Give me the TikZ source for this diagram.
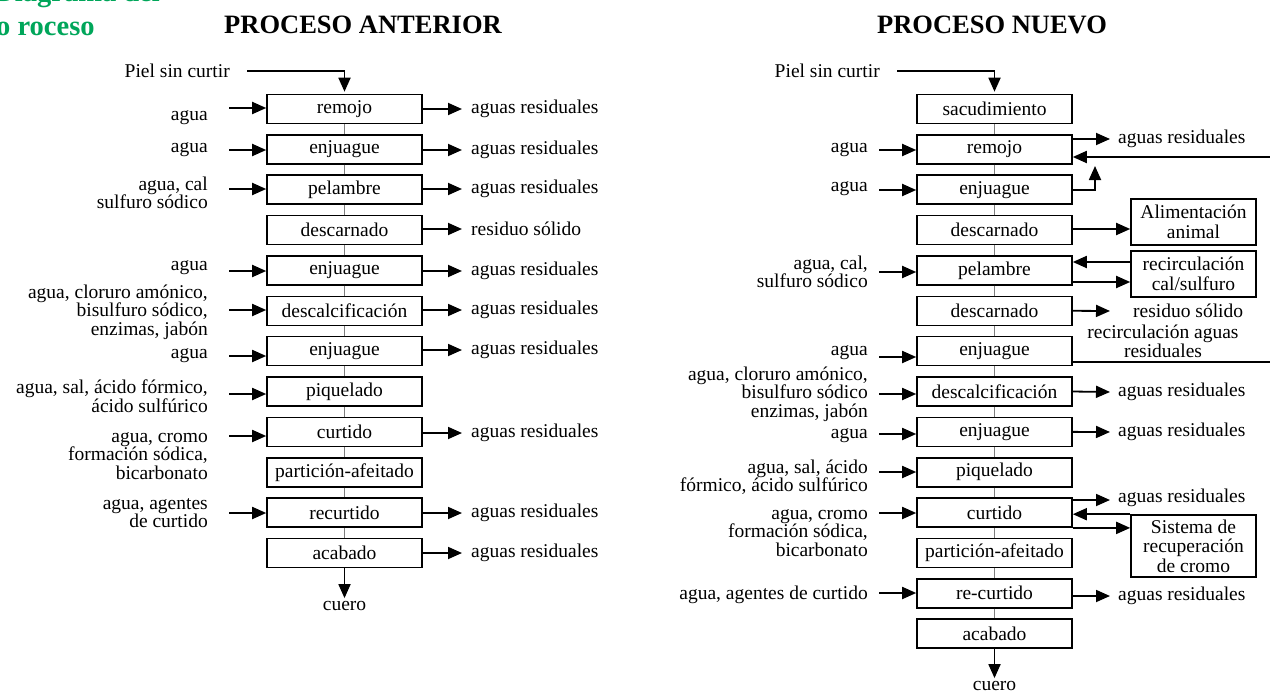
\documentclass[tikz,border=0pt]{standalone}
\usepackage{fontspec}
\setmainfont{Liberation Serif}
\usetikzlibrary{arrows.meta,calc}
\definecolor{titlegreen}{RGB}{0,166,90}
\definecolor{linkgray}{RGB}{125,125,125}
\tikzset{
 every node/.style={font=\fontsize{19.5}{18.5}\selectfont, inner sep=0pt},
 stepbox/.style={draw, line width=1.6pt, minimum width=155pt, minimum height=29pt, inner sep=0pt},
 sidebox/.style={draw, line width=1.6pt, minimum width=125pt, align=center, font=\fontsize{19.5}{19.5}\selectfont},
 arr/.style={line width=1.8pt, -{Triangle[length=14pt,width=12pt]}},
 plain/.style={line width=1.8pt},
 link/.style={linkgray, line width=1.1pt},
 inlabel/.style={anchor=east, align=right},
 outlabel/.style={anchor=west},
 title/.style={font=\fontsize{26.5}{30}\selectfont\bfseries},
 green/.style={font=\fontsize{28.5}{30}\selectfont\bfseries, text=titlegreen},
}
\begin{document}
\begin{tikzpicture}[x=1pt,y=-1pt]
\useasboundingbox (0,0) rectangle (1270,693);
\clip (0,0) rectangle (1270,693);
% green heading (cropped as in the reference)
\node[green, anchor=base east] (g1) at (160,2) {Diagrama del};
\node[green, anchor=base west] (g2) at (-4,36) {o roceso};
% titles
\node[title] (tA) at (363,25) {PROCESO ANTERIOR};
\node[title] (tN) at (992,25) {PROCESO NUEVO};

% ---------------- left column ----------------
\foreach \i/\t in {1/remojo,2/enjuague,3/pelambre,4/descarnado,5/enjuague,6/descalcificación,7/enjuague,8/piquelado,9/curtido,10/partición-afeitado,11/recurtido,12/acabado}
  \node[stepbox] (L\i) at (344.5,{109+40.36*(\i-1)}) {\t};
\foreach \i [evaluate=\i as \j using int(\i+1)] in {1,...,11}
  \draw[link] (L\i) -- (L\j);

\node[anchor=east] (pA) at (230,71) {Piel sin curtir};
\draw[arr] ([xshift=17pt]pA.east) -| ([yshift=2pt]L1.north);

% inputs left
\node[inlabel] (a1) at (208,118) {agua};
\draw[arr] (229,108) -- (L1.west |- 0,108);
\node[inlabel] (a2) at (208,150) {agua};
\draw[arr] (229,150) -- (L2.west |- 0,150);
\node[inlabel] (a3) at (208,193) {agua, cal\\sulfuro sódico};
\draw[arr] (229,189) -- (L3.west |- 0,189);
\node[inlabel] (a5) at (208,268) {agua};
\draw[arr] (229,271) -- (L5.west |- 0,271);
\node[inlabel] (a6) at (208,312) {agua, cloruro amónico,\\bisulfuro sódico,\\enzimas, jabón};
\draw[arr] (229,310) -- (L6.west |- 0,310);
\node[inlabel] (a7) at (208,356) {agua};
\draw[arr] (229,356) -- (L7.west |- 0,356);
\node[inlabel] (a8) at (208,396) {agua, sal, ácido fórmico,\\ácido sulfúrico};
\draw[arr] (229,394) -- (L8.west |- 0,394);
\node[inlabel] (a9) at (208,456) {agua, cromo\\formación sódica,\\bicarbonato};
\draw[arr] (229,436) -- (L9.west |- 0,436);
\node[inlabel] (a11) at (208,513) {agua, agentes\\de curtido};
\draw[arr] (229,513) -- (L11.west |- 0,513);

% outputs left
\foreach \i/\y/\t in {1/109/aguas residuales,2/150/aguas residuales,3/189/aguas residuales,4/229/residuo sólido,5/271/aguas residuales,6/310/aguas residuales,7/350/aguas residuales,9/433/aguas residuales,11/513/aguas residuales,12/553/aguas residuales}{
  \draw[arr] (L\i.east |- 0,\y) -- (462,\y);
  \node[outlabel] (o\i) at (471,\y) {\t};
}
\node (cA) at (344.5,606) {cuero};
\draw[arr] (L12.south) -- ([yshift=3pt]cA.north);

% ---------------- right column ----------------
\foreach \i/\t in {1/sacudimiento,2/remojo,3/enjuague,4/descarnado,5/pelambre,6/descarnado,7/enjuague,8/descalcificación,9/enjuague,10/piquelado,11/curtido,12/partición-afeitado,13/re-curtido,14/acabado}
  \node[stepbox] (R\i) at (994.5,{109+40.36*(\i-1)}) {\t};
\foreach \i [evaluate=\i as \j using int(\i+1)] in {1,...,13}
  \draw[link] (R\i) -- (R\j);

\node[anchor=east] (pN) at (880,71) {Piel sin curtir};
\draw[arr] ([xshift=17pt]pN.east) -| ([yshift=2pt]R1.north);

% inputs right
\node[inlabel] (b2) at (868,150) {agua};
\draw[arr] (879,150) -- (R2.west |- 0,150);
\node[inlabel] (b3) at (868,189) {agua};
\draw[arr] (879,190) -- (R3.west |- 0,190);
\node[inlabel] (b5) at (868,272) {agua, cal,\\sulfuro sódico};
\draw[arr] (879,272) -- (R5.west |- 0,272);
\node[inlabel] (b7) at (868,353) {agua};
\draw[arr] (879,357) -- (R7.west |- 0,357);
\node[inlabel] (b8) at (868,394) {agua, cloruro amónico,\\bisulfuro sódico\\enzimas, jabón};
\draw[arr] (879,394) -- (R8.west |- 0,394);
\node[inlabel] (b9) at (868,436) {agua};
\draw[arr] (879,434) -- (R9.west |- 0,434);
\node[inlabel] (b10) at (868,477) {agua, sal, ácido\\fórmico, ácido sulfúrico};
\draw[arr] (879,472) -- (R10.west |- 0,472);
\node[inlabel] (b11) at (868,533) {agua, cromo\\formación sódica,\\bicarbonato};
\draw[arr] (879,513) -- (R11.west |- 0,513);
\node[inlabel] (b13) at (868,595) {agua, agentes de curtido};
\draw[arr] (879,593) -- (R13.west |- 0,593);

% side boxes
\node[sidebox, minimum height=46pt] (F) at (1193.5,222) {Alimentación\\animal};
\node[sidebox, minimum height=46pt] (C) at (1193.5,274) {recirculación\\cal/sulfuro};
\node[sidebox, minimum height=62pt] (S) at (1193.5,546) {Sistema de\\recuperación\\de cromo};
\coordinate (eA) at (1270,157);
\coordinate (eB) at (1270,362);
\coordinate (up) at (1095,166);

% outputs right
\draw[arr] (R2.east |- 0,139) -- (1110,139);
\node[outlabel] (q2) at (1118,139) {aguas residuales};
\draw[arr] (eA) -- (R2.east |- eA);
\draw[arr] (R3.east) -| (up);
\draw[arr] (R4.east |- 0,229) -- (F.west |- 0,229);
\draw[arr] (C.west |- 0,262) -- (R5.east |- 0,262);
\draw[arr] (R5.east |- 0,282) -- (C.west |- 0,282);
\draw[arr] (R6.east) -- (1110,311);
\node[outlabel] (q6) at (1133,311) {residuo sólido};
\node[align=center, font=\fontsize{19.5}{17}\selectfont] (rw) at (1163,341) {recirculación aguas\\residuales};
\draw[plain] (R7.east |- eB) -- (eB);
\draw[arr] (R8.east) -- (1110,392);
\node[outlabel] (q8) at (1118,392) {aguas residuales};
\draw[arr] (R9.east) -- (1110,432);
\node[outlabel] (q9) at (1118,432) {aguas residuales};
\draw[arr] (R11.east |- 0,500) -- (1110,500);
\node[outlabel] (q11) at (1118,498) {aguas residuales};
\draw[arr] (S.north west) -- (R11.east |- S.north);
\draw[arr] (R11.south east) -- (S.west |- R11.south east);
\draw[arr] (R13.east |- 0,596) -- (1110,596);
\node[outlabel] (q13) at (1118,596) {aguas residuales};
\node (cN) at (994.5,686) {cuero};
\draw[arr] (R14.south) -- ([yshift=3pt]cN.north);
\end{tikzpicture}
\end{document}
